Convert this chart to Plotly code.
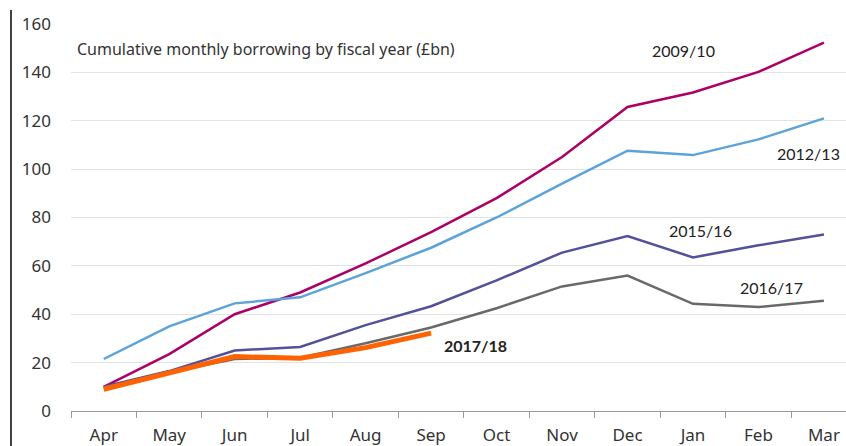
import plotly.graph_objects as go

months = ["Apr", "May", "Jun", "Jul", "Aug", "Sep", "Oct", "Nov", "Dec", "Jan", "Feb", "Mar"]
fy_2009_10 = [10, 23.5, 40, 49, 61, 74, 88, 105, 125.7, 131.7, 140.2, 152.3]
fy_2012_13 = [21.5, 35, 44.5, 47, 57, 67.5, 80, 94, 107.6, 105.8, 112.3, 121]
fy_2015_16 = [10, 16.5, 25, 26.5, 35.5, 43.3, 54, 65.5, 72.3, 63.5, 68.5, 73]
fy_2016_17 = [9.5, 16, 21.5, 22, 28, 34.5, 42.5, 51.5, 56, 44.3, 43, 45.6]
fy_2017_18 = [9, 16, 22.5, 21.8, 26.2, 32.2]
yticks = [0, 20, 40, 60, 80, 100, 120, 140, 160]

fig = go.Figure()
series = [
    ("2009/10", fy_2009_10, "#ab0066", 2.5),
    ("2012/13", fy_2012_13, "#5ba3d9", 2.5),
    ("2015/16", fy_2015_16, "#525199", 2.5),
    ("2016/17", fy_2016_17, "#696969", 2.5),
    ("2017/18", fy_2017_18, "#ff6200", 5),
]
for name, vals, color, w in series:
    fig.add_trace(go.Scatter(x=months[:len(vals)], y=vals, mode="lines", name=name,
                             line=dict(color=color, width=w)))

lab_font = dict(family="Lato", size=16, color="#222222")
labels = [
    ("2009/10", 8.85, 149, False),
    ("2012/13", 10.76, 106.6, False),
    ("2015/16", 9.11, 74.8, False),
    ("2016/17", 10.2, 51.2, False),
    ("2017/18", 5.68, 26.9, True),
]
for txt, x, y, bold in labels:
    fig.add_annotation(x=x, y=y, xref="x", yref="y", text=f"<b>{txt}</b>" if bold else txt,
                       showarrow=False, font=lab_font, xanchor="center", yanchor="middle")

W, H = 846, 446
L, R, T, B = 71, 0, 24, 35
pw, ph = W - L - R, H - T - B

fig.add_annotation(x=(75 - L) / pw, y=1 - (49 - T) / ph, xref="paper", yref="paper",
                   text="Cumulative monthly borrowing by fiscal year (£bn)",
                   showarrow=False, font=dict(family="Noto Sans", size=16, color="#333333"),
                   xanchor="left", yanchor="middle")

fig.add_shape(type="line", xref="paper", yref="paper",
              x0=(11 - L) / pw, x1=(11 - L) / pw, y0=(T - 446) / ph, y1=1 + (T - 10) / ph,
              line=dict(color="#000000", width=1.5))

fig.update_layout(
    width=W, height=H, margin=dict(l=L, r=R, t=T, b=B),
    plot_bgcolor="white", paper_bgcolor="white", showlegend=False,
    font=dict(family="Noto Sans", size=17, color="#333333"),
)
fig.update_xaxes(type="category", range=[-0.5, 11.337], tickson="boundaries", ticks="outside",
                 ticklen=6, tickcolor="#999999", showline=True, linecolor="#999999", linewidth=1,
                 showgrid=False, ticklabelstandoff=9, tickfont=dict(size=17, color="#333333"))
fig.update_yaxes(range=[0, 160], tickvals=yticks, showgrid=True, gridcolor="#e3e3e3", gridwidth=1.2,
                 zeroline=False, showline=False, ticks="", ticklabelstandoff=19,
                 tickfont=dict(size=17, color="#333333"))

fig.write_html("out.html")
